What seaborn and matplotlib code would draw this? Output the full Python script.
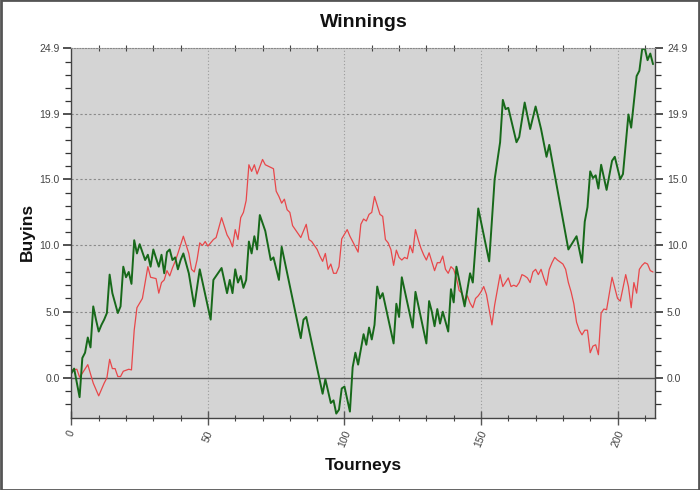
import matplotlib
matplotlib.use("Agg")
import matplotlib.pyplot as plt
import matplotlib.patches as patches
import numpy as np
import seaborn as sns

# ---- data ----
green_t = [0,1,3,4,5,6,7,8,9,10,11,12,13,14,15,17,18,19,20,21,22,23,24,25,27,28,29,30,32,33,34,35,36,37,38,39,40,41,43,45,47,51,52,55,57,58,59,60,61,62,63,64,65,66,67,68,69,71,73,74,76,77,84,85,86,92,93,95,96,97,98,99,100,102,103,104,105,107,108,109,110,111,112,113,114,118,119,120,121,125,126,130,131,132,133,134,135,136,138,139,140,141,144,146,147,149,153,155,157,158,159,160,163,164,166,168,170,172,174,175,182,185,187,188,189,190,191,192,193,194,196,198,199,201,202,204,205,207,208,209,210,211,212,213]
green_v = [0.35,0.7,-1.46,1.5,1.9,3.05,2.3,5.4,4.4,3.5,4.0,4.4,4.9,7.8,6.4,4.9,5.4,8.4,7.6,8.0,7.1,10.4,9.4,10.1,8.9,9.3,8.4,9.7,8.4,9.3,7.9,9.5,9.7,8.9,9.1,8.2,8.9,9.4,7.9,5.4,8.2,4.4,7.4,8.3,6.4,7.4,6.4,8.2,7.2,7.7,6.8,7.4,10.3,9.4,10.7,9.7,12.3,11.1,8.9,9.1,7.4,9.9,3.0,4.4,4.6,-1.2,-0.1,-1.9,-1.7,-2.7,-2.4,-0.8,-0.66,-2.55,0.8,1.9,1.0,3.3,2.5,3.8,2.9,4.0,6.9,6.0,6.4,2.6,5.6,4.6,7.6,3.8,6.5,2.6,5.8,5.0,3.9,5.2,4.1,5.0,3.5,6.7,5.7,8.4,5.4,7.9,7.2,12.8,8.8,15.0,17.8,21.0,20.3,20.4,17.8,18.2,20.8,18.8,20.5,18.8,16.7,17.6,9.7,10.7,8.7,11.8,12.9,15.6,15.1,15.3,14.3,16.1,14.2,16.4,16.7,15.0,15.4,19.9,18.9,22.8,23.2,24.8,24.9,24.0,24.5,23.7]

red_t = [0,2,3,4,6,8,10,12,13,14,15,16,17,18,19,21,22,23,24,26,27,28,29,31,32,33,34,35,36,37,38,39,41,43,44,45,46,47,48,49,50,51,52,53,55,57,58,59,60,61,62,63,64,65,66,67,68,70,71,73,74,75,76,77,78,79,80,81,84,86,87,88,90,91,92,93,94,95,96,97,98,99,101,102,103,105,106,107,108,109,110,111,113,114,115,116,117,118,119,120,121,122,123,124,125,126,127,128,129,130,131,133,134,135,136,137,138,139,140,141,142,143,144,145,146,147,148,149,150,151,152,154,155,157,158,160,161,162,163,164,165,166,167,168,169,170,171,172,173,174,175,176,177,178,180,181,182,183,184,185,186,187,188,189,190,191,192,193,194,195,196,198,199,200,201,203,204,205,206,207,208,209,210,211,212,213]
red_v = [0.6,0.65,0.05,0.35,1.0,-0.4,-1.36,-0.4,0.0,1.4,0.7,0.7,0.1,0.1,0.5,0.65,0.6,3.6,5.3,6.0,7.2,8.4,7.6,7.5,6.4,7.2,7.4,8.1,7.7,8.3,8.8,9.4,10.7,9.4,8.2,8.0,8.9,10.2,10.0,10.3,9.95,10.2,10.45,10.6,12.1,10.8,10.45,9.9,11.2,10.45,12.1,12.5,13.4,16.1,15.6,16.1,15.4,16.5,16.1,15.9,15.8,14.1,13.7,13.2,13.5,12.7,12.5,11.5,10.6,11.6,10.45,10.3,9.7,9.2,8.8,9.4,8.2,8.6,7.9,7.9,8.4,10.5,11.2,10.7,10.3,9.5,11.6,12.0,11.85,12.35,12.5,13.7,12.35,12.2,10.45,10.2,9.7,8.5,9.65,9.1,8.9,9.1,9.0,10.0,9.45,11.2,10.45,9.8,9.3,8.9,9.45,8.1,8.7,8.7,9.2,8.2,7.9,8.4,8.2,7.55,6.6,6.4,5.8,6.2,5.65,5.3,6.0,6.2,6.5,6.9,6.3,4.0,5.5,7.8,6.9,7.55,6.9,7.0,6.9,7.2,7.8,7.7,7.55,7.2,8.0,8.2,7.8,8.2,7.55,7.0,8.2,8.7,9.1,8.9,8.6,8.2,7.2,6.5,5.6,4.2,3.6,3.25,3.6,3.6,1.9,2.4,2.5,1.75,4.9,5.2,5.15,7.6,6.8,6.0,5.8,7.8,6.9,5.3,7.2,6.4,8.2,8.5,8.7,8.6,8.1,8.0]

y_ticks = [0.0, 5.0, 10.0, 15.0, 19.9, 24.9]
y_tick_labels = ["0.0", "5.0", "10.0", "15.0", "19.9", "24.9"]
x_ticks = [0, 50, 100, 150, 200]

# ---- style ----
sns.set_style("white")
plt.rcParams["font.family"] = ["Liberation Sans", "DejaVu Sans"]

fig = plt.figure(figsize=(7.0, 4.9), dpi=100)
ax = fig.add_axes([0.102, 0.147, 0.834, 0.7545])
ax.set_facecolor("#d4d4d4")

sns.lineplot(x=red_t, y=red_v, ax=ax, color="#e8474a", linewidth=0.9, estimator=None)
sns.lineplot(x=green_t, y=green_v, ax=ax, color="#17691a", linewidth=1.4, estimator=None)

ax.set_xlim(0, 213.8)
ax.set_ylim(-3.03, 24.9)

# grid lines
for yv in y_ticks[1:5]:
    ax.axhline(yv, color="#8a8a8a", lw=0.8, ls=(0, (2, 2)), zorder=0.5)
for xv in x_ticks[1:]:
    ax.axvline(xv, color="#9a9a9a", lw=0.8, ls=(0, (1, 2)), zorder=0.5)
ax.axhline(0, color="#555555", lw=1.0, zorder=0.6)

# ticks
ax.set_yticks(y_ticks)
ax.set_yticklabels(y_tick_labels)
minor_y = list(np.arange(-2, 15, 1.0)) + list(np.linspace(15, 19.9, 6)[1:-1]) + list(np.linspace(19.9, 24.9, 6)[1:-1])
ax.set_yticks([m for m in minor_y if m not in y_ticks], minor=True)
ax.set_xticks(x_ticks)
ax.set_xticklabels([str(v) for v in x_ticks], rotation=68, ha="center", va="top")
ax.set_xticks([v for v in range(10, 214, 10) if v not in x_ticks], minor=True)

ax.tick_params(axis="y", which="major", left=True, right=True, labelleft=True, labelright=True,
               direction="out", length=5.5, width=1.1, color="#222222", labelsize=7.5,
               labelcolor="#444444", pad=3)
ax.tick_params(axis="y", which="minor", left=True, right=True, direction="out", length=4,
               width=0.9, color="#333333")
ax.tick_params(axis="x", which="major", bottom=True, top=False, direction="inout", length=10,
               width=1.0, color="#555555", labelsize=7.5, labelcolor="#444444", pad=3)
ax.tick_params(axis="x", which="minor", bottom=True, top=True, direction="inout", length=5,
               width=0.8, color="#444444")

for s in ["left", "bottom", "right"]:
    ax.spines[s].set_color("#444444")
    ax.spines[s].set_linewidth(1.0)
ax.spines["top"].set_color("#888888")
ax.spines["top"].set_linestyle((0, (1, 1.5)))
ax.spines["top"].set_linewidth(0.8)

ax.set_xlabel("")
ax.set_ylabel("")

fig.text(0.52, 0.955, "Winnings", ha="center", va="center", fontsize=14, fontweight="bold", color="#111111")
fig.text(0.519, 0.049, "Tourneys", ha="center", va="center", fontsize=12.5, fontweight="bold", color="#111111")
fig.text(0.039, 0.526, "Buyins", ha="center", va="center", rotation=90, fontsize=12.5, fontweight="bold", color="#111111")

fig.patches.append(patches.Rectangle((0.001, 0.001), 0.998, 0.998, transform=fig.transFigure,
                                     fill=False, edgecolor="#555555", linewidth=2.0))

fig.savefig("out.png", dpi=100)
